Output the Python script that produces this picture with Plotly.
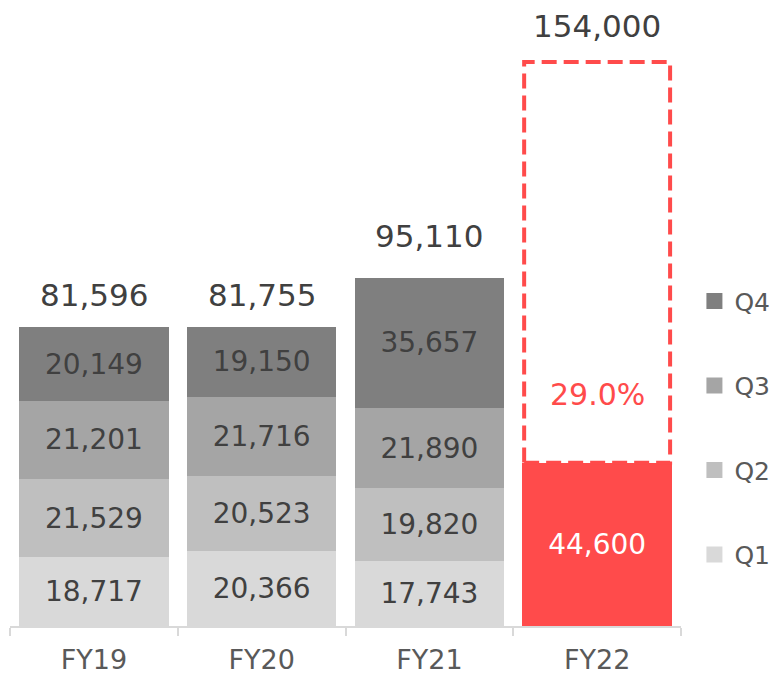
import plotly.graph_objects as go

categories = ["FY19", "FY20", "FY21", "FY22"]
q1 = [18717, 20366, 17743, 44600]
q2 = [21529, 20523, 19820, None]
q3 = [21201, 21716, 21890, None]
q4 = [20149, 19150, 35657, None]
fy22_target = 154000
series_names = ["Q1", "Q2", "Q3", "Q4"]

gray_colors = {"Q1": "#d9d9d9", "Q2": "#bfbfbf", "Q3": "#a5a5a5", "Q4": "#7f7f7f"}
red = "#ff4b4b"
text_dark = "#404040"
label_gray = "#595959"
font_family = "DejaVu Sans"
bar_width = 0.89
total_shift = [12, 12, 22, 16]

fig = go.Figure()
series = {"Q1": q1, "Q2": q2, "Q3": q3, "Q4": q4}
for name in series_names:
    vals = series[name]
    colors = [gray_colors[name]] * len(categories)
    tcolors = [text_dark] * len(categories)
    if name == "Q1":
        colors[-1] = red
        tcolors[-1] = "white"
    fig.add_trace(go.Bar(
        x=categories, y=vals, name=name,
        marker=dict(color=colors, line=dict(width=0)),
        width=bar_width,
        text=[f"{v:,}" if v is not None else "" for v in vals],
        textposition="inside", insidetextanchor="middle", textangle=0,
        textfont=dict(color=tcolors, size=28, family=font_family),
        showlegend=False, hoverinfo="skip",
    ))

# legend entries (Q4..Q1 top to bottom)
for name in reversed(series_names):
    fig.add_trace(go.Scatter(
        x=[None], y=[None], mode="markers", name=name,
        marker=dict(symbol="square", size=16, color=gray_colors[name]),
        legendgroup=name, showlegend=True,
    ))

# totals
for i, cat in enumerate(categories):
    if i < 3:
        total = q1[i] + q2[i] + q3[i] + q4[i]
    else:
        total = fy22_target
    fig.add_annotation(x=cat, y=total, text=f"{total:,}", showarrow=False,
                       yanchor="bottom", yshift=total_shift[i],
                       font=dict(size=31, color=text_dark, family=font_family))

# FY22 dashed target box
idx = 3
fig.add_shape(type="rect", xref="x", yref="y",
              x0=idx - bar_width / 2 + 0.01, x1=idx + bar_width / 2 - 0.01,
              y0=q1[idx], y1=fy22_target,
              line=dict(color=red, width=4, dash="15px,7px"), fillcolor="rgba(0,0,0,0)")
pct = q1[idx] / fy22_target * 100
fig.add_annotation(x=categories[idx], y=q1[idx] + (fy22_target - q1[idx]) * 0.17,
                   text=f"{pct:.1f}%", showarrow=False,
                   font=dict(size=30, color=red, family=font_family))

fig.update_layout(
    width=780, height=677,
    margin=dict(l=10, r=99, t=20, b=51, autoexpand=False),
    barmode="stack", bargap=0.11,
    plot_bgcolor="white", paper_bgcolor="white",
    font=dict(family=font_family, color=label_gray),
    xaxis=dict(showline=True, linecolor="#d9d9d9", linewidth=1.5,
               ticks="outside", tickson="boundaries", ticklen=8, tickcolor="#d9d9d9",
               tickwidth=1.5, tickfont=dict(size=27, color=label_gray), range=[-0.5, 3.5],
               ticklabelstandoff=9, automargin=False),
    yaxis=dict(visible=False, range=[0, 606 / 0.003662], automargin=False),
    legend=dict(x=1.02, xanchor="left", y=0.327, yanchor="middle",
                font=dict(size=25, color=label_gray), tracegroupgap=49,
                itemwidth=30, borderwidth=0, bgcolor="rgba(0,0,0,0)"),
)
fig.write_html("out.html", config={"displayModeBar": False},
               post_script="document.body.style.margin='0';document.body.style.overflow='hidden';")
